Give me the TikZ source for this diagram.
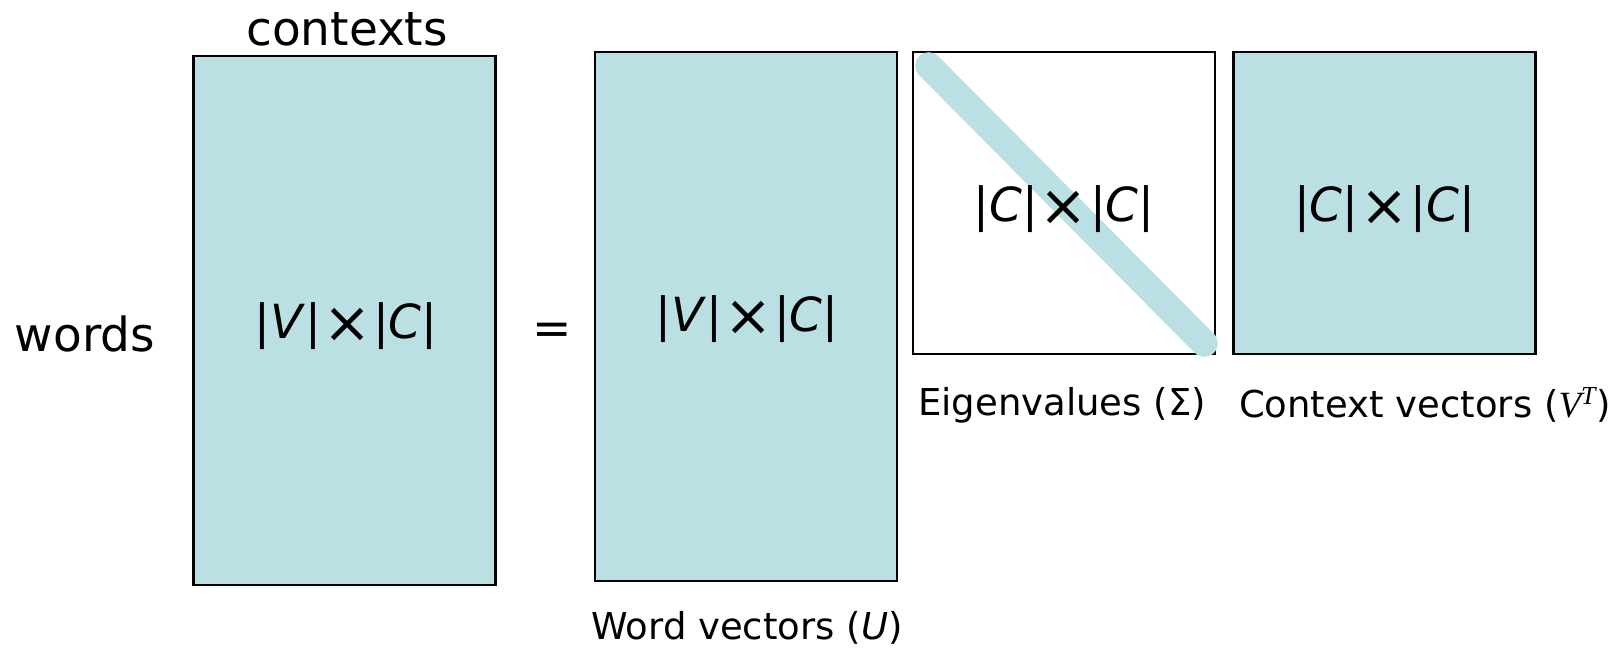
\documentclass[tikz,border=0pt]{standalone}
\usepackage{fontspec}
\setmainfont{DejaVu Sans}
\newfontfamily\serifit{Liberation Serif}
\definecolor{matfill}{RGB}{186,224,227}
\newcommand{\dimtxt}[2]{|\textit{#1}|\kern1pt\raisebox{-0.08em}{\scalebox{1.22}{×}}\kern1pt|\textit{#2}|}

\begin{document}
\begin{tikzpicture}[
    x=0.5pt,y=-0.5pt,
    mat/.style={draw=black,line width=1.3pt,inner sep=0pt,minimum width=151pt},
    tall/.style={mat,fill=matfill,minimum height=264.5pt},
    square/.style={mat,minimum height=151pt},
    dims/.style={font=\fontsize{23.5}{28}\selectfont},
    caption/.style={font=\fontsize{18.5}{22}\selectfont},
]
\useasboundingbox (0,0) rectangle (1623,649);

% Input matrix
\node[tall] (M) at (344.75,320.5) {};
\node[dims] (Mtxt) at (346,326) {\dimtxt{V}{C}};
\node[dims] (ctx) at (347,29) {contexts};
\node[dims] (wrd) at (85,334) {words};
\node[dims] (eq) at (552,334) {=};

% Word vectors
\node[tall] (U) at (746,316.5) {};
\node[dims] (Utxt) at (747,319) {\dimtxt{V}{C}};
\node[caption] (Ucap) at (747,628) {Word vectors (\textit{U})};

% Eigenvalues, diagonal band
\node[square] (S) at (1064,203) {};
\draw[matfill,line width=13.5pt,line cap=round]
    ([shift={(17,15)}]S.north west) -- ([shift={(-12,-12)}]S.south east);
\node[dims] (Stxt) at (1064,209) {\dimtxt{C}{C}};
\node[caption] (Scap) at (1062,405) {Eigenvalues (Σ)};

% Context vectors
\node[square,fill=matfill] (VT) at (1384.5,203) {};
\node[dims] (VTtxt) at (1384.5,209) {\dimtxt{C}{C}};
\node[caption] (VTcap) at (1425,405) {Context vectors ({\serifit\itshape V\textsuperscript{T}})};
\end{tikzpicture}
\end{document}
